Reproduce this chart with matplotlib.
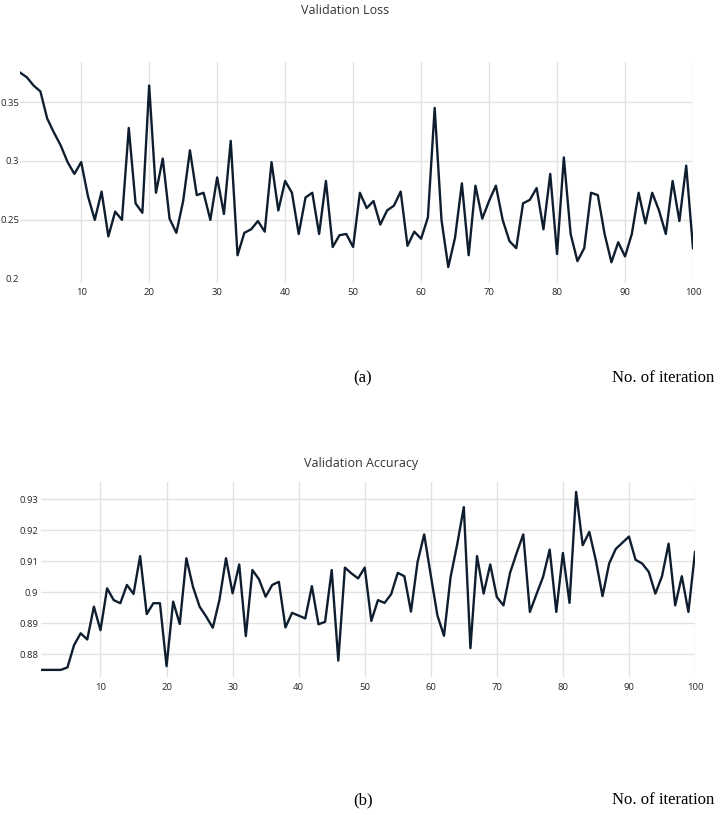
import matplotlib
matplotlib.use("Agg")
import matplotlib.pyplot as plt

iterations = list(range(1, 101))

val_loss = [
    0.375, 0.371, 0.364, 0.359, 0.336, 0.324, 0.313, 0.299, 0.289, 0.299,
    0.270, 0.250, 0.274, 0.236, 0.257, 0.250, 0.328, 0.264, 0.256, 0.364,
    0.273, 0.302, 0.251, 0.239, 0.266, 0.309, 0.271, 0.273, 0.250, 0.286,
    0.255, 0.317, 0.220, 0.239, 0.242, 0.249, 0.240, 0.299, 0.258, 0.283,
    0.273, 0.238, 0.269, 0.273, 0.238, 0.283, 0.227, 0.237, 0.238, 0.227,
    0.273, 0.260, 0.266, 0.246, 0.258, 0.262, 0.274, 0.228, 0.240, 0.234,
    0.252, 0.345, 0.250, 0.210, 0.235, 0.281, 0.220, 0.279, 0.251, 0.266,
    0.279, 0.250, 0.232, 0.226, 0.264, 0.267, 0.277, 0.242, 0.289, 0.221,
    0.303, 0.238, 0.215, 0.226, 0.273, 0.271, 0.238, 0.214, 0.231, 0.219,
    0.238, 0.273, 0.247, 0.273, 0.258, 0.238, 0.283, 0.249, 0.296, 0.226,
]

val_acc = [
    0.8750, 0.8750, 0.8750, 0.8750, 0.8758, 0.8830, 0.8868, 0.8848, 0.8954, 0.8878,
    0.9013, 0.8975, 0.8965, 0.9024, 0.8995, 0.9117, 0.8930, 0.8965, 0.8965, 0.8762,
    0.8970, 0.8898, 0.9110, 0.9018, 0.8954, 0.8922, 0.8886, 0.8975, 0.9110, 0.8997,
    0.9090, 0.8859, 0.9072, 0.9042, 0.8986, 0.9024, 0.9034, 0.8887, 0.8934, 0.8925,
    0.8916, 0.9020, 0.8897, 0.8905, 0.9072, 0.8780, 0.9080, 0.9061, 0.9045, 0.9080,
    0.8908, 0.8975, 0.8966, 0.8994, 0.9063, 0.9052, 0.8938, 0.9098, 0.9187, 0.9055,
    0.8926, 0.8860, 0.9050, 0.9155, 0.9275, 0.8820, 0.9117, 0.8996, 0.9090, 0.8985,
    0.8958, 0.9063, 0.9127, 0.9187, 0.8937, 0.8994, 0.9050, 0.9138, 0.8937, 0.9127,
    0.8966, 0.9324, 0.9152, 0.9195, 0.9102, 0.8988, 0.9093, 0.9140, 0.9160, 0.9180,
    0.9105, 0.9093, 0.9066, 0.8996, 0.9052, 0.9157, 0.8958, 0.9052, 0.8937, 0.9130,
]

x_ticks = [10, 20, 30, 40, 50, 60, 70, 80, 90, 100]
loss_ticks = [0.2, 0.25, 0.3, 0.35]
loss_tick_labels = ["0.2", "0.25", "0.3", "0.35"]
acc_ticks = [0.88, 0.89, 0.90, 0.91, 0.92, 0.93]
acc_tick_labels = ["0.88", "0.89", "0.9", "0.91", "0.92", "0.93"]

line_color = "#0f1e2e"
grid_color = "#e2e2e2"
text_color = "#262626"

fig = plt.figure(figsize=(7.2, 8.15), dpi=100)


def style_axes(ax, yticks, ylabels, ysize, ypad):
    for s in ax.spines.values():
        s.set_visible(False)
    ax.set_xticks(x_ticks)
    ax.set_yticks(yticks)
    ax.set_yticklabels(ylabels)
    ax.tick_params(length=0, labelcolor=text_color)
    ax.tick_params(axis="x", labelsize=6.8, pad=4)
    ax.tick_params(axis="y", labelsize=ysize, pad=ypad)
    for lbl in ax.get_xticklabels() + ax.get_yticklabels():
        lbl.set_fontfamily("Open Sans")
    ax.grid(True, color=grid_color, linewidth=1)
    ax.set_axisbelow(True)


# (a) validation loss
ax1 = fig.add_axes([20 / 720, 0.653, 673 / 720, 0.271])
ax1.plot(iterations, val_loss, color=line_color, linewidth=1.7)
ax1.set_xlim(1, 100)
ax1.set_ylim(0.1966, 0.384)
style_axes(ax1, loss_ticks, loss_tick_labels, 6.8, 0.5)
ax1.get_ygridlines()[0].set_visible(False)

# (b) validation accuracy
ax2 = fig.add_axes([0.057, 0.1693, 0.9083, 0.2393])
ax2.plot(iterations, val_acc, color=line_color, linewidth=1.7)
ax2.set_xlim(1, 100)
ax2.set_ylim(0.8727, 0.9356)
style_axes(ax2, acc_ticks, acc_tick_labels, 6.8, 2)

fig.text(0.479, 1 - 11 / 815, "Validation Loss", ha="center", va="center",
         fontsize=9, color="#333333", family="Open Sans")
fig.text(0.501, 1 - 463 / 815, "Validation Accuracy", ha="center", va="center",
         fontsize=9, color="#333333", family="Open Sans")

for y, tag in [(378, "(a)"), (800, "(b)")]:
    fig.text(363 / 720, 1 - y / 815, tag, ha="center", va="center",
             fontsize=12, family="Liberation Serif", color="black")
    fig.text(714 / 720, 1 - y / 815, "No. of iteration", ha="right", va="center",
             fontsize=12, family="Liberation Serif", color="black")

fig.savefig("out.png", dpi=100, facecolor="white")
